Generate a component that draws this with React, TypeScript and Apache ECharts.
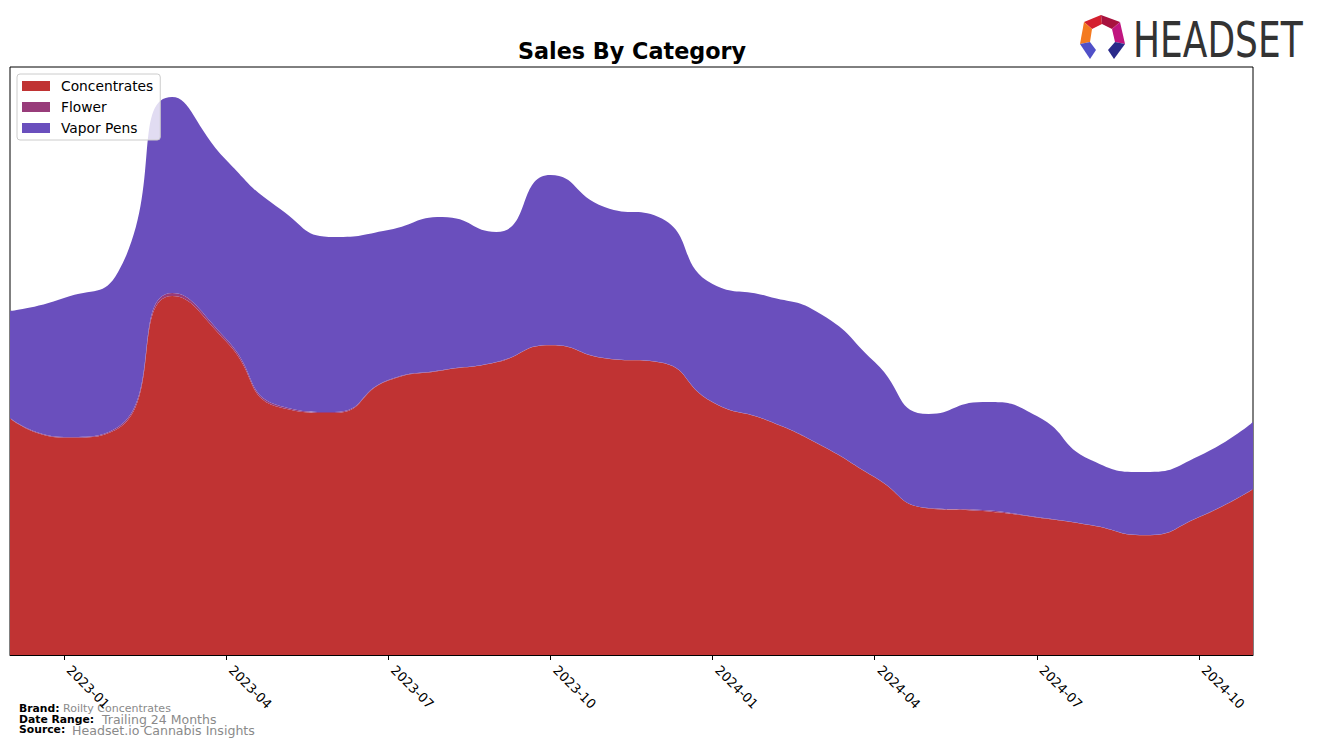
import React, { useEffect, useRef } from "react";
import * as echarts from "echarts";

const months = [
  "2022-12", "2023-01", "2023-02", "2023-03", "2023-04", "2023-05", "2023-06", "2023-07",
  "2023-08", "2023-09", "2023-10", "2023-11", "2023-12", "2024-01", "2024-02", "2024-03",
  "2024-04", "2024-05", "2024-06", "2024-07", "2024-08", "2024-09", "2024-10", "2024-11",
];

const concentrates = [
  236.5, 217.2, 226.5, 359, 313.5, 247.5, 242, 274.4, 284.6, 292.7, 309.7, 296.7,
  292.7, 252.7, 234.7, 209.7, 177.7, 146.6, 144, 137.5, 129.7, 119.7, 137.7, 165.7,
];

const flower = [
  0.5, 0.8, 1.5, 3, 2.5, 1.5, 1, 0.6, 0.4, 0.3, 0.3, 0.3,
  0.3, 0.3, 0.3, 0.3, 0.3, 0.4, 1, 0.5, 0.3, 0.3, 0.3, 0.3,
];

const vaporPens = [
  107, 139, 155, 196, 179, 197, 175, 150, 153, 130, 170, 151,
  145, 118, 124, 131, 115, 94, 108, 101, 65, 63, 61, 67,
];

const seriesNames = ["Concentrates", "Flower", "Vapor Pens"];
const seriesColors = ["#C03333", "#983C7A", "#6A4FBD"];
const yMax = 588;

export default function App() {
  const ref = useRef<HTMLDivElement>(null);

  useEffect(() => {
    if (!ref.current) return;
    const chart = echarts.init(ref.current, null, { renderer: "svg" });
    const dataSets = [concentrates, flower, vaporPens];
    const tickInterval = (index: number) => index % 3 === 1;

    const textEl = (text: string, x: number, y: number, size: number, bold: boolean, color: string) => ({
      type: "text",
      x,
      y,
      style: {
        text,
        fill: color,
        fontSize: size,
        fontWeight: bold ? "bold" : "normal",
        fontFamily: "DejaVu Sans",
        align: "left",
        textAlign: "left",
        verticalAlign: "middle",
        textVerticalAlign: "middle",
      },
    });

    chart.setOption({
      animation: false,
      backgroundColor: "#ffffff",
      title: {
        text: "Sales By Category",
        left: 632,
        top: 40,
        padding: 0,
        textAlign: "center",
        textStyle: {
          fontFamily: "DejaVu Sans",
          fontWeight: "bold",
          fontSize: 22.3,
          color: "#000",
        },
      },
      legend: {
        orient: "vertical",
        left: 17,
        top: 74,
        padding: [5, 7, 5, 5],
        itemWidth: 28,
        itemHeight: 10,
        itemGap: 7,
        icon: "rect",
        backgroundColor: "rgba(255,255,255,0.8)",
        borderColor: "#cccccc",
        borderWidth: 1,
        borderRadius: 3,
        data: seriesNames,
        textStyle: {
          fontFamily: "DejaVu Sans",
          fontSize: 13.8,
          color: "#000",
          padding: [0, 0, 0, 6],
        },
      },
      grid: {
        left: 10,
        right: 64,
        top: 67,
        bottom: 92,
        show: true,
        borderColor: "#000",
        borderWidth: 1,
        backgroundColor: "transparent",
      },
      xAxis: {
        type: "category",
        data: months,
        boundaryGap: false,
        axisLine: { show: true, lineStyle: { color: "#000", width: 1 } },
        axisTick: { show: true, interval: tickInterval, length: 5, lineStyle: { color: "#000" } },
        axisLabel: {
          interval: tickInterval,
          rotate: -45,
          margin: 8,
          padding: [0, 0, 0, 7],
          fontFamily: "DejaVu Sans",
          fontSize: 13,
          color: "#000",
        },
        splitLine: { show: false },
      },
      yAxis: {
        type: "value",
        min: 0,
        max: yMax,
        show: false,
        splitLine: { show: false },
      },
      series: seriesNames.map((name, i) => ({
        name,
        type: "line",
        stack: "total",
        smooth: 0.55,
        symbol: "none",
        showSymbol: false,
        data: dataSets[i],
        itemStyle: { color: seriesColors[i] },
        lineStyle: { width: 0, color: seriesColors[i] },
        areaStyle: { color: seriesColors[i], opacity: 1 },
        emphasis: { disabled: true },
      })),
      graphic: [
        { type: "polygon", shape: { points: [[1084, 22], [1101, 15], [1102, 24], [1092, 29]] }, style: { fill: "#D4202F" } },
        { type: "polygon", shape: { points: [[1101, 15], [1120, 22], [1112, 29], [1102, 24]] }, style: { fill: "#A8123E" } },
        { type: "polygon", shape: { points: [[1084, 22], [1092, 29], [1090, 42], [1080, 44]] }, style: { fill: "#F47A20" } },
        { type: "polygon", shape: { points: [[1120, 22], [1125, 44], [1115, 42], [1112, 29]] }, style: { fill: "#C0157F" } },
        { type: "polygon", shape: { points: [[1080, 44], [1090, 42], [1096, 50], [1090, 59]] }, style: { fill: "#5050C8" } },
        { type: "polygon", shape: { points: [[1125, 44], [1115, 42], [1108, 50], [1114, 59]] }, style: { fill: "#2A2A8A" } },
        {
          type: "text",
          x: 1133,
          y: 40,
          scaleX: 0.72,
          style: {
            text: "HEADSET",
            fill: "#333333",
            fontSize: 50,
            fontFamily: "DejaVu Sans",
            align: "left",
            textAlign: "left",
            verticalAlign: "middle",
            textVerticalAlign: "middle",
          },
        },
        textEl("Brand:", 19, 708, 10.8, true, "#000"),
        textEl("Roilty Concentrates", 63, 708, 11, false, "#8a8a8a"),
        textEl("Date Range:", 19, 719, 10.8, true, "#000"),
        textEl("Trailing 24 Months", 102, 719.5, 12.5, false, "#8a8a8a"),
        textEl("Source:", 19, 729.5, 10.8, true, "#000"),
        textEl("Headset.io Cannabis Insights", 72, 730, 12.6, false, "#8a8a8a"),
      ],
    });

    return () => chart.dispose();
  }, []);

  return (
    <div
      ref={ref}
      style={{ position: "fixed", left: 0, top: 0, width: 1317, height: 747, background: "#fff" }}
    />
  );
}
